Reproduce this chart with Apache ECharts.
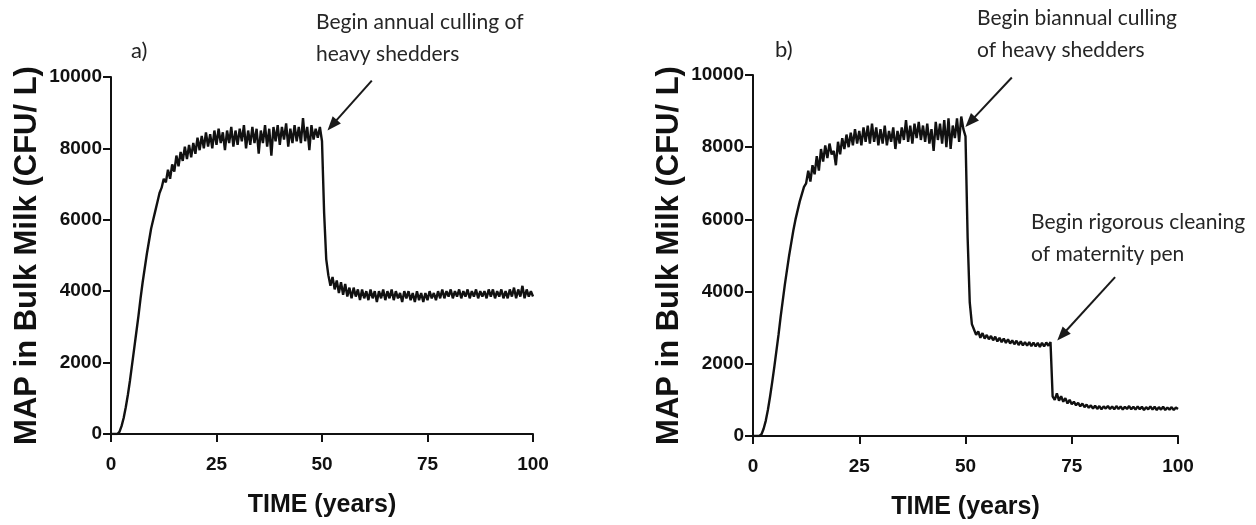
<!DOCTYPE html>
<html><head><meta charset="utf-8">
<script src="https://cdn.jsdelivr.net/npm/echarts@6/dist/echarts.min.js"></script>
<style>html,body{margin:0;padding:0;background:#fff}#c{width:1256px;height:525px}</style>
</head><body><div id="c"></div>
<script>
const xTicks = [0, 25, 50, 75, 100];
const yTicks = [0, 2000, 4000, 6000, 8000, 10000];
const sampleStep = 0.5;

// a) annual culling of heavy shedders from year 50
const mapAnnual = [
  0,0,0,0,60,220,450,750,1100,1500,
  1950,2400,2850,3300,3800,4250,4650,5050,5400,5750,
  6000,6250,6500,6750,6900,7150,7050,7400,7150,7550,
  7350,7800,7500,7900,7650,8050,7700,8100,7750,8150,
  7850,8300,7950,8350,8000,8450,8050,8400,8000,8500,
  8100,8550,8150,8450,7950,8500,8150,8600,8050,8500,
  8100,8550,8200,8650,8000,8500,8100,8600,8150,8550,
  7850,8500,8150,8650,8050,8550,7800,8600,8200,8650,
  8100,8600,8250,8700,8050,8550,8150,8650,8200,8600,
  8150,8850,8200,8600,7950,8650,8250,8550,8300,8600,
  8200,6200,4900,4450,4150,4400,4050,4300,3950,4250,
  3900,4200,3850,4100,3800,4100,3850,4050,3750,4050,
  3800,4000,3750,4050,3800,4000,3700,4000,3800,4050,
  3750,4000,3800,4050,3750,4000,3800,3950,3700,4000,
  3800,4000,3750,3950,3700,4000,3750,3950,3700,3950,
  3750,4000,3800,3950,3750,4000,3800,4050,3800,4000,
  3850,4050,3800,4000,3850,4050,3800,4000,3850,4050,
  3800,4000,3850,4050,3800,4000,3850,4000,3800,4050,
  3850,4050,3800,4000,3850,4050,3800,4000,3800,4050,
  3850,4100,3800,4050,3850,4150,3800,4050,3850,4000,
  3850
];

// b) biannual culling from year 50, rigorous cleaning of maternity pen from year 70
const mapBiannual = [
  0,0,0,0,50,200,420,720,1080,1480,
  1900,2350,2800,3300,3750,4200,4600,5000,5350,5700,
  6000,6250,6500,6700,6900,7000,7350,7050,7500,7250,
  7750,7350,7950,7600,8050,7700,8100,7800,7900,7500,
  8150,7800,8250,7950,8350,8000,8400,8050,8500,8100,
  8450,8050,8550,8150,8600,8100,8650,8150,8550,8050,
  8500,8100,8600,8050,8450,8150,8550,7950,8450,8100,
  8550,8200,8750,8150,8600,8100,8650,8250,8700,8200,
  8600,8150,8650,8100,8500,7900,8700,8200,8650,8100,
  8750,8000,8800,7950,8600,8250,8800,8150,8850,8500,
  8300,5500,3700,3100,2950,2800,2900,2720,2850,2700,
  2800,2680,2770,2650,2750,2620,2720,2600,2700,2580,
  2680,2560,2650,2540,2640,2520,2620,2510,2600,2500,
  2600,2490,2590,2480,2580,2470,2580,2480,2590,2500,
  2600,1100,1000,1180,980,1100,950,1050,900,1000,
  880,950,850,920,820,900,800,870,780,850,
  760,840,750,830,740,820,760,830,750,820,
  740,830,750,820,730,810,750,830,740,810,
  730,820,740,810,720,800,740,820,730,810,
  720,800,730,810,720,790,730,800,720,790,
  750
];

// annotation arrows: [start, tip] in data coordinates
const arrowA  = [[61.8, 9900], [52.4, 8650]];
const arrowB1 = [[60.9, 9930], [51.1, 8700]];
const arrowB2 = [[85.2, 4400], [72.7, 2790]];

const panelLabels = ['a)', 'b)'];
const noteA  = ['Begin annual culling of', 'heavy shedders'];
const noteB1 = ['Begin biannual culling', 'of heavy shedders'];
const noteB2 = ['Begin rigorous cleaning', 'of maternity pen'];
const xTitle = 'TIME (years)';
const yTitle = 'MAP in Bulk Milk (CFU/ L)';

// ---- chart ----
const SANS = "'Liberation Sans',Arial,Helvetica,sans-serif";
const NOTE = "Lato,'Open Sans',sans-serif";
const INK = '#111';

const toPairs = vals => vals.map((v, i) => [i * sampleStep, v]);

function xAxisCfg(gi) {
  return {
    type: 'value', gridIndex: gi,
    min: xTicks[0], max: xTicks[xTicks.length - 1], interval: xTicks[1] - xTicks[0],
    name: xTitle, nameLocation: 'middle', nameGap: 59,
    nameTextStyle: { fontFamily: SANS, fontWeight: 'bold', fontSize: 25, color: INK },
    axisLine: { onZero: false, lineStyle: { color: INK, width: 2 } },
    axisTick: { show: true, length: 8, lineStyle: { color: INK, width: 2 } },
    axisLabel: { fontFamily: SANS, fontWeight: 'bold', fontSize: 19, color: INK, margin: 21,
                 formatter: v => String(v) },
    splitLine: { show: false }
  };
}
function yAxisCfg(gi) {
  return {
    type: 'value', gridIndex: gi,
    min: yTicks[0], max: yTicks[yTicks.length - 1], interval: yTicks[1] - yTicks[0],
    name: yTitle, nameLocation: 'middle', nameRotate: 90, nameGap: 68,
    nameTextStyle: { fontFamily: SANS, fontWeight: 'bold', fontSize: 31, color: INK },
    axisLine: { onZero: false, lineStyle: { color: INK, width: 2 } },
    axisTick: { show: true, length: 8, lineStyle: { color: INK, width: 2 } },
    axisLabel: { fontFamily: SANS, fontWeight: 'bold', fontSize: 19, color: INK, margin: 9,
                 formatter: v => String(v) },
    splitLine: { show: false }
  };
}
function arrowMark(list) {
  return {
    silent: true, animation: false,
    symbol: ['none', 'triangle'], symbolSize: [11, 14],
    label: { show: false },
    lineStyle: { color: '#1a1a1a', width: 2, type: 'solid' },
    emphasis: { disabled: true },
    data: list.map(a => [{ coord: a[0] }, { coord: a[1] }])
  };
}
function lineSeries(gi, vals, marks) {
  return {
    type: 'line', xAxisIndex: gi, yAxisIndex: gi,
    data: toPairs(vals), showSymbol: false, symbol: 'none',
    lineStyle: { color: INK, width: 2.4 }, silent: true, animation: false,
    markLine: marks
  };
}
function noteText(lines, left, top) {
  return {
    type: 'text', left, top,
    style: { text: lines.join('\n'), font: '21px ' + NOTE, fill: '#262626', lineHeight: 32 }
  };
}

const chart = echarts.init(document.getElementById('c'), null, { renderer: 'canvas' });
chart.setOption({
  backgroundColor: '#fff',
  animation: false,
  grid: [
    { left: 111, top: 77, width: 422, height: 357 },
    { left: 753, top: 75, width: 425, height: 363 }
  ],
  xAxis: [xAxisCfg(0), xAxisCfg(1)],
  yAxis: [yAxisCfg(0), yAxisCfg(1)],
  series: [
    lineSeries(0, mapAnnual, arrowMark([arrowA])),
    lineSeries(1, mapBiannual, arrowMark([arrowB1, arrowB2]))
  ],
  graphic: [
    { type: 'text', left: 131, top: 40, style: { text: panelLabels[0], font: '22px ' + NOTE, fill: '#222' } },
    { type: 'text', left: 775, top: 39, style: { text: panelLabels[1], font: '22px ' + NOTE, fill: '#222' } },
    noteText(noteA, 316, 6),
    noteText(noteB1, 977, 2),
    noteText(noteB2, 1031, 206)
  ]
});
</script>
</body></html>
